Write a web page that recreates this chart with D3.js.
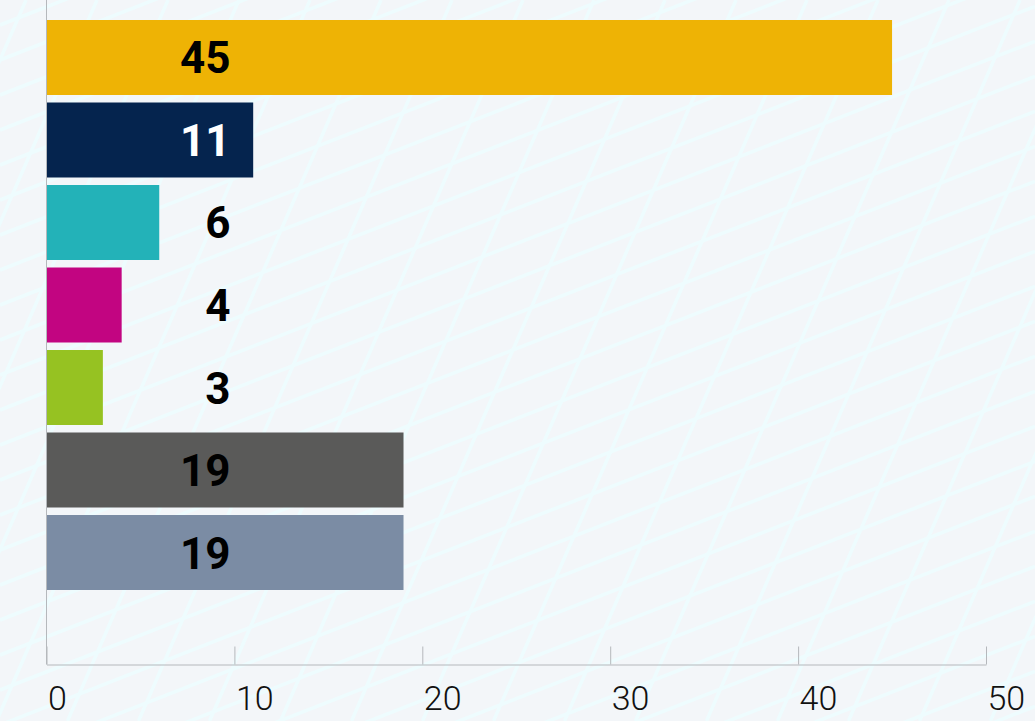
<!DOCTYPE html>
<html>
<head>
<meta charset="utf-8">
<script src="https://cdn.jsdelivr.net/npm/d3@7"></script>
<style>
  body { margin: 0; background: #f3f6f9; overflow: hidden; }
  svg { display: block; }
</style>
</head>
<body>
<div id="canvas"></div>
<script>
// data
const categories = ["A", "B", "C", "D", "E", "F", "G"];
const values = [45, 11, 6, 4, 3, 19, 19];
const colors = ["#eeb100", "#00204a", "#1fb0b7", "#c1007e", "#94c11e", "#575756", "#788aa2"];
const labelColors = ["#000", "#fff", "#000", "#000", "#000", "#000", "#000"];
const tickValues = [0, 10, 20, 30, 40, 50];

const width = 1035;
const height = 721;
const margin = {top: 12.5, left: 46.5, bottom: 57, right: 49};
const iwidth = width - margin.left - margin.right;
const axisY = 664.5;

const svg = d3.select("#canvas").append("svg")
    .attr("width", width)
    .attr("height", height);

svg.append("rect")
    .attr("width", width)
    .attr("height", height)
    .attr("fill", "#f3f6f9");

// background diagonal lines
const bg = svg.append("g")
    .attr("stroke", "#eefcfe")
    .attr("stroke-width", 3.5)
    .attr("fill", "none");

// steep family
for (let x0 = -400; x0 < width + 400; x0 += 71) {
    bg.append("line")
        .attr("x1", x0).attr("y1", 0)
        .attr("x2", x0 - height / 2.3).attr("y2", height);
}
// shallow family
for (let y0 = -500; y0 < height + 500; y0 += 35) {
    bg.append("line")
        .attr("x1", 0).attr("y1", y0)
        .attr("x2", width).attr("y2", y0 - width * 0.39);
}

const g = svg.append("g");

const x = d3.scaleLinear()
    .domain([0, 50])
    .range([margin.left, margin.left + iwidth]);

const y = d3.scaleBand()
    .domain(categories)
    .range([margin.top, margin.top + 585])
    .paddingInner(0.0909)
    .paddingOuter(0.0909);

g.selectAll("rect.bar").data(values).enter().append("rect")
    .attr("class", "bar")
    .attr("x", x(0))
    .attr("y", (d, i) => y(categories[i]))
    .attr("height", y.bandwidth())
    .attr("width", d => x(d) - x(0))
    .attr("fill", (d, i) => colors[i])
    .attr("fill-opacity", 0.98);

g.selectAll("text.val").data(values).enter().append("text")
    .attr("class", "val")
    .attr("x", x(0) + 184)
    .attr("y", (d, i) => y(categories[i]) + y.bandwidth() / 2 + 16)
    .attr("text-anchor", "end")
    .style("font-family", "Roboto")
    .style("font-weight", 700)
    .style("font-size", "44px")
    .attr("fill", (d, i) => labelColors[i])
    .text(d => d);

// left axis line
g.append("line")
    .attr("x1", x(0)).attr("x2", x(0))
    .attr("y1", 0).attr("y2", axisY)
    .attr("stroke", "#b5b8bc")
    .attr("stroke-width", 1);

const xAxis = g.append("g")
    .attr("transform", `translate(0, ${axisY})`)
    .call(d3.axisBottom(x).tickValues(tickValues).tickSize(-18).tickSizeOuter(0));

xAxis.select(".domain").attr("stroke", "#b5b8bc");
xAxis.selectAll(".tick line").attr("stroke", "#b5b8bc");
xAxis.selectAll(".tick text")
    .attr("text-anchor", "start")
    .attr("x", 1)
    .attr("y", 45)
    .attr("dy", 0)
    .attr("fill", "#111")
    .style("font-family", "Roboto")
    .style("font-weight", 300)
    .style("font-size", "34px");
</script>
</body>
</html>
